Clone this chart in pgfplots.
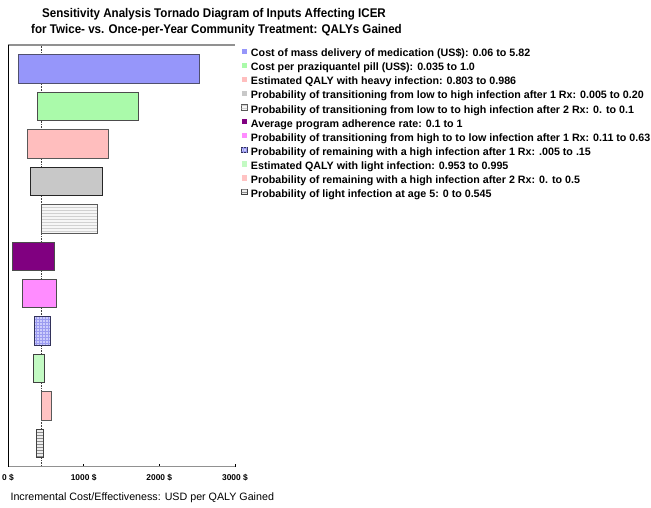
\documentclass[border=0pt]{standalone}
\usepackage{fontspec}
\setmainfont{Liberation Sans}
\usepackage{pgfplots}
\pgfplotsset{compat=1.18}
\usetikzlibrary{patterns}
\definecolor{c1}{RGB}{150,150,250}
\definecolor{c2}{RGB}{170,250,170}
\definecolor{c3}{RGB}{255,190,190}
\definecolor{c4}{RGB}{200,200,200}
\definecolor{c5}{RGB}{246,246,246}
\definecolor{c6}{RGB}{128,0,128}
\definecolor{c7}{RGB}{255,140,255}
\definecolor{c8}{RGB}{205,205,252}
\definecolor{c9}{RGB}{195,250,195}
\definecolor{c10}{RGB}{255,195,195}
\definecolor{c11}{RGB}{236,236,236}
\definecolor{frameg}{RGB}{145,145,145}
\begin{document}
\begin{tikzpicture}
\path[use as bounding box] (0pt,0pt) rectangle (651pt,508pt);
\node[font=\fontsize{12.6}{14}\selectfont\bfseries, anchor=base, inner sep=0pt] at (214pt,490pt) {\scalebox{0.92}[1]{Sensitivity Analysis Tornado Diagram of Inputs Affecting ICER}};
\node[font=\fontsize{12.6}{14}\selectfont\bfseries, anchor=base, inner sep=0pt] at (216.5pt,474pt) {\scalebox{0.92}[1]{for Twice- vs. Once-per-Year Community Treatment: QALYs Gained}};
\begin{axis}[
  at={(8pt,41pt)}, anchor=south west,
  scale only axis, width=227pt, height=422pt,
  xmin=0, xmax=3000, ymin=0.37, ymax=11.64,
  axis line style={draw=none},
  ytick=\empty,
  xtick={0,1000,2000,3000},
  xticklabels={0 \$, 1000 \$, 2000 \$, 3000 \$},
  xtick pos=bottom, tick align=inside,
  major tick length=3pt,
  every tick/.style={black, line width=0.5pt},
  xticklabel style={font=\fontsize{8.4}{9}\selectfont\bfseries, yshift=-4pt},
  legend style={at={(1,1)}, anchor=north west, xshift=6pt, yshift=-3.5pt,
    draw=none, fill=none, inner sep=0pt, row sep=3.2pt, column sep=3.5pt,
    font=\fontsize{10.7}{12}\selectfont\bfseries,
    nodes={inner sep=0pt, text height=8pt, text depth=2.5pt}},
  legend cell align=left,
  legend image code/.code={\fill[#1,draw=none] (0pt,0pt) rectangle (5.5pt,5.5pt);},
]
\addplot[forget plot, black!75, line width=0.6pt, densely dotted] coordinates {(440,0.37) (440,11.64)};
\addplot[fill=c1, draw={rgb,255:red,80;green,80;blue,110}, line width=0.8pt] coordinates {(132,10.62) (2523,10.62) (2523,11.38) (132,11.38)} -- cycle;
\addlegendentry{Cost of mass delivery of medication (US\$): 0.06 to 5.82}
\addplot[fill=c2, draw=black!70, line width=0.8pt] coordinates {(388,9.62) (1727,9.62) (1727,10.38) (388,10.38)} -- cycle;
\addlegendentry{Cost per praziquantel pill (US\$): 0.035 to 1.0}
\addplot[fill=c3, draw=black!65, line width=0.8pt] coordinates {(255,8.62) (1325,8.62) (1325,9.38) (255,9.38)} -- cycle;
\addlegendentry{Estimated QALY with heavy infection: 0.803 to 0.986}
\addplot[fill=c4, draw=black!85, line width=0.8pt] coordinates {(291,7.62) (1251,7.62) (1251,8.38) (291,8.38)} -- cycle;
\addlegendentry{Probability of transitioning from low to high infection after 1 Rx: 0.005 to 0.20}
\addplot[preaction={fill=c5}, pattern=horizontal lines, pattern color=black!18, draw=black!65, line width=0.8pt] coordinates {(440,6.62) (1180,6.62) (1180,7.38) (440,7.38)} -- cycle;
\addlegendentry{Probability of transitioning from low to to high infection after 2 Rx: 0. to 0.1}
\addplot[fill=c6, draw=black!70, line width=0.8pt] coordinates {(62,5.62) (617,5.62) (617,6.38) (62,6.38)} -- cycle;
\addlegendentry{Average program adherence rate: 0.1 to 1}
\addplot[fill=c7, draw=black!70, line width=0.8pt] coordinates {(185,4.62) (634,4.62) (634,5.38) (185,5.38)} -- cycle;
\addlegendentry{Probability of transitioning from high to to low infection after 1 Rx: 0.11 to 0.63}
\addplot[preaction={fill=c8}, pattern=grid, pattern color={rgb,255:red,155;green,155;blue,240}, draw={rgb,255:red,50;green,50;blue,90}, line width=0.8pt] coordinates {(348,3.62) (564,3.62) (564,4.38) (348,4.38)} -- cycle;
\addlegendentry{Probability of remaining with a high infection after 1 Rx: .005 to .15}
\addplot[fill=c9, draw=black!75, line width=0.8pt] coordinates {(335,2.62) (485,2.62) (485,3.38) (335,3.38)} -- cycle;
\addlegendentry{Estimated QALY with light infection: 0.953 to 0.995}
\addplot[fill=c10, draw=black!65, line width=0.8pt] coordinates {(440,1.62) (573,1.62) (573,2.38) (440,2.38)} -- cycle;
\addlegendentry{Probability of remaining with a high infection after 2 Rx: 0. to 0.5}
\addplot[preaction={fill=c11}, pattern=horizontal lines, pattern color=black!45, draw=black!75, line width=0.8pt] coordinates {(379,0.62) (467,0.62) (467,1.38) (379,1.38)} -- cycle;
\addlegendentry{Probability of light infection at age 5: 0 to 0.545}
\draw[frameg, line width=1.5pt] (rel axis cs:0,0) -- (rel axis cs:1,0);
\draw[frameg, line width=1.5pt] (rel axis cs:0,1) -- (rel axis cs:1,1);
\draw[black, line width=0.6pt] (rel axis cs:0,0) -- (rel axis cs:0,1);
\draw[black, line width=0.6pt] (rel axis cs:1,0) -- (rel axis cs:1,1);
\end{axis}
\node[font=\fontsize{10.7}{12}\selectfont, anchor=base west] at (7pt,7pt) {Incremental Cost/Effectiveness: USD per QALY Gained};
\end{tikzpicture}
\end{document}
